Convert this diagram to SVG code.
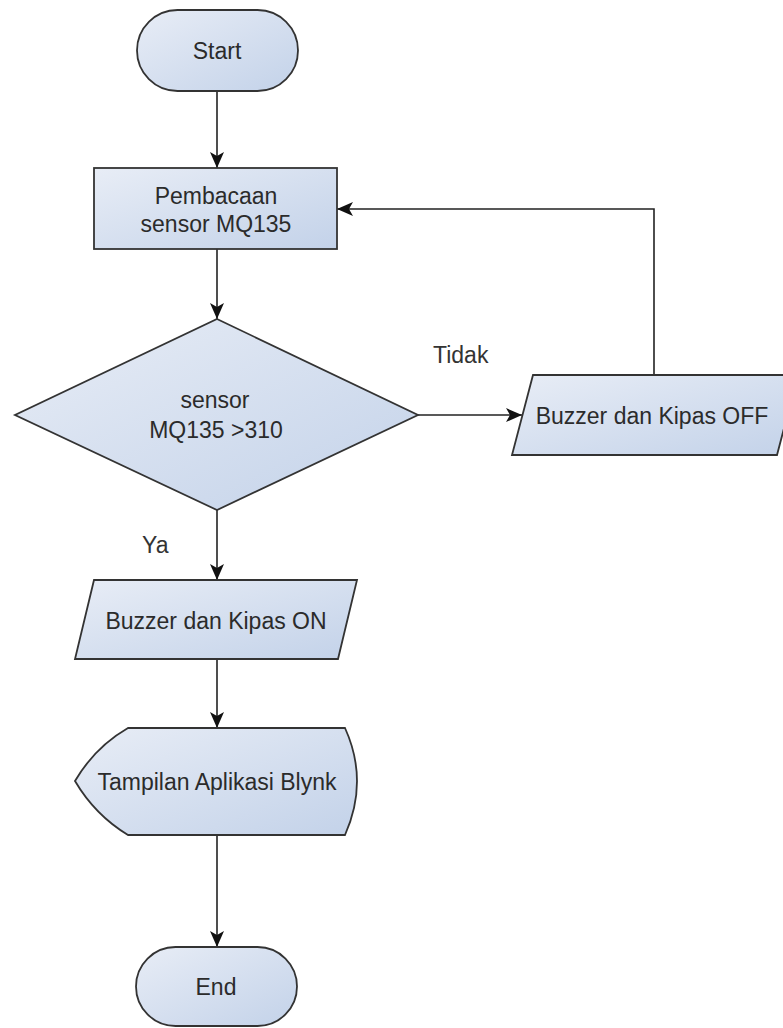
<svg xmlns="http://www.w3.org/2000/svg" width="783" height="1028" viewBox="0 0 783 1028">
  <style>
    .shape { fill: url(#fillGrad); stroke: #333333; stroke-width: 1.8; }
    .label { font-family: "Liberation Sans", Arial, sans-serif; font-size: 23px; fill: #2b2b2b; text-anchor: middle; }
    .edge { fill: none; stroke: #222222; stroke-width: 1.6; }
    .edgelabel { font-family: "Liberation Sans", Arial, sans-serif; font-size: 23px; fill: #333333; }
  </style>
  <defs>
    <linearGradient id="fillGrad" x1="0" y1="0" x2="1" y2="1">
      <stop offset="0" stop-color="#e8edf6"/>
      <stop offset="1" stop-color="#c3d2e9"/>
    </linearGradient>
    <marker id="arrow" markerUnits="userSpaceOnUse" markerWidth="16" markerHeight="14" refX="16" refY="7" orient="auto">
      <path d="M0,0 L16,7 L0,14 L4,7 z" fill="#111111"/>
    </marker>
  </defs>
  <rect width="783" height="1028" fill="#ffffff"/>

  <g id="connectors">
    <line class="edge" x1="217" y1="91" x2="217" y2="168" marker-end="url(#arrow)"/>
    <line class="edge" x1="217" y1="249" x2="217" y2="319" marker-end="url(#arrow)"/>
    <line class="edge" x1="418" y1="415" x2="522" y2="415" marker-end="url(#arrow)"/>
    <polyline class="edge" points="654,375 654,209 337,209" marker-end="url(#arrow)"/>
    <line class="edge" x1="217" y1="510" x2="217" y2="580" marker-end="url(#arrow)"/>
    <line class="edge" x1="217" y1="659" x2="217" y2="728" marker-end="url(#arrow)"/>
    <line class="edge" x1="217" y1="835" x2="217" y2="947" marker-end="url(#arrow)"/>
    <text class="edgelabel" x="433" y="363">Tidak</text>
    <text class="edgelabel" x="142" y="553">Ya</text>
  </g>

  <g id="start">
    <rect class="shape" x="137" y="10" width="161" height="81" rx="40.5" ry="40.5"/>
    <text class="label" x="217" y="59">Start</text>
  </g>

  <g id="pembacaan">
    <rect class="shape" x="94" y="168" width="243" height="81"/>
    <text class="label" x="216" y="204">Pembacaan</text>
    <text class="label" x="216" y="232">sensor MQ135</text>
  </g>

  <g id="decision">
    <polygon class="shape" points="217,319 418,415 217,510 15,415"/>
    <text class="label" x="215" y="408">sensor</text>
    <text class="label" x="216" y="438">MQ135 &gt;310</text>
  </g>

  <g id="off">
    <polygon class="shape" points="533,375 798,375 777,455 512,455"/>
    <text class="label" x="652" y="424">Buzzer dan Kipas OFF</text>
  </g>

  <g id="on">
    <polygon class="shape" points="94,580 357,580 338,659 75,659"/>
    <text class="label" x="216" y="629">Buzzer dan Kipas ON</text>
  </g>

  <g id="display">
    <path class="shape" d="M128,728 L345,728 Q369,781 345,835 L128,835 Q95,815 75,781 Q95,747 128,728 Z"/>
    <text class="label" x="217" y="790">Tampilan Aplikasi Blynk</text>
  </g>

  <g id="end">
    <rect class="shape" x="136" y="947" width="161" height="79" rx="39.5" ry="39.5"/>
    <text class="label" x="216" y="995">End</text>
  </g>
</svg>
